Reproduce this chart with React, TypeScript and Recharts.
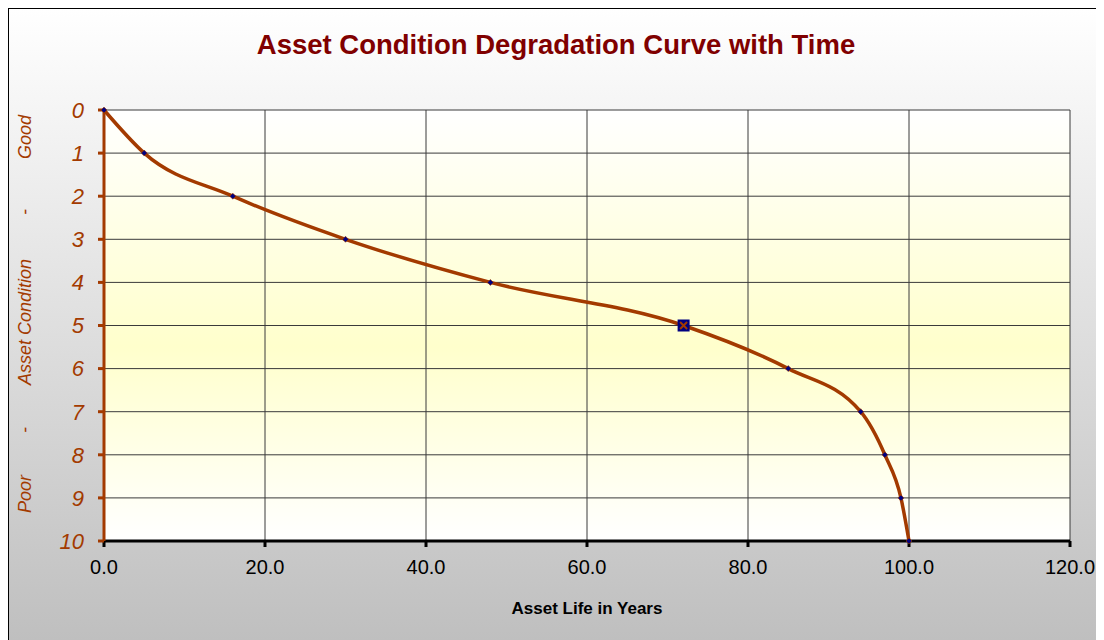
import { LineChart, Line, XAxis, YAxis, CartesianGrid, Label } from 'recharts';

const years = [0, 5, 16, 30, 48, 72, 85, 94, 97, 99, 100];
const condition = [0, 1, 2, 3, 4, 5, 6, 7, 8, 9, 10];
const highlightYear = 72;

const xTicks = [0, 20, 40, 60, 80, 100, 120];
const yTicks = [0, 1, 2, 3, 4, 5, 6, 7, 8, 9, 10];

// y-axis title pieces, top to bottom on screen
const yTitleParts = [
  { text: 'Good', y: 128 },
  { text: '-', y: 203 },
  { text: 'Asset Condition', y: 313 },
  { text: '-', y: 421 },
  { text: 'Poor', y: 485 },
];

const data = years.map((year, i) => ({ year, condition: condition[i] }));

const FONT = '"Liberation Sans", Arial, sans-serif';
const BROWN = '#a33a00';

function Marker(props: any) {
  const { cx, cy, payload } = props;
  if (cx == null || cy == null) return null;
  if (payload.year === highlightYear) {
    return (
      <g key={`m-${payload.year}`}>
        <rect x={cx - 6} y={cy - 6} width={12} height={12} fill="#000080" />
        <path d={`M${cx - 3.5},${cy - 3.5}L${cx + 3.5},${cy + 3.5}M${cx + 3.5},${cy - 3.5}L${cx - 3.5},${cy + 3.5}`} stroke={BROWN} strokeWidth={2} />
      </g>
    );
  }
  return (
    <path
      key={`m-${payload.year}`}
      d={`M${cx},${cy - 3}L${cx + 3},${cy}L${cx},${cy + 3}L${cx - 3},${cy}Z`}
      fill="#000080"
      stroke={BROWN}
      strokeWidth={0.6}
    />
  );
}

function YTitle() {
  return (
    <g>
      {yTitleParts.map((p, i) => (
        <text
          key={i}
          x={16}
          y={p.y}
          transform={`rotate(-90 16 ${p.y})`}
          textAnchor="middle"
          dominantBaseline="central"
          fill={BROWN}
          fontStyle="italic"
          fontSize={18}
          fontFamily={FONT}
        >
          {p.text}
        </text>
      ))}
    </g>
  );
}

export default function App() {
  return (
    <div
      style={{
        position: 'relative',
        width: 1094,
        height: 631,
        border: '1px solid #000',
        borderBottom: 'none',
        background: 'linear-gradient(to bottom, #ffffff 0%, #bfbfbf 100%)',
        fontFamily: FONT,
      }}
    >
      <svg width={0} height={0} style={{ position: 'absolute' }}>
        <defs>
          <linearGradient id="plotBg" x1="0" y1="0" x2="0" y2="1">
            <stop offset="0%" stopColor="#ffffff" />
            <stop offset="55%" stopColor="#ffffcc" />
            <stop offset="100%" stopColor="#ffffff" />
          </linearGradient>
        </defs>
      </svg>
      <div
        style={{
          position: 'absolute',
          top: 20,
          left: 0,
          width: '100%',
          textAlign: 'center',
          fontSize: 27.5,
          lineHeight: '32px',
          fontWeight: 'bold',
          color: '#800000',
        }}
      >
        Asset Condition Degradation Curve with Time
      </div>
      <LineChart
        width={1094}
        height={631}
        data={data}
        margin={{ top: 101, right: 33, left: 0, bottom: 19 }}
        style={{ position: 'absolute', top: 0, left: 0 }}
      >
        <CartesianGrid stroke="#3a3a3a" strokeWidth={1} fill="url(#plotBg)" fillOpacity={1} />
        <XAxis
          type="number"
          dataKey="year"
          domain={[0, 120]}
          ticks={xTicks}
          tickFormatter={(v: number) => v.toFixed(1)}
          height={80}
          axisLine={{ stroke: '#000', strokeWidth: 3 }}
          tickLine={{ stroke: '#000', strokeWidth: 3 }}
          tickSize={6}
          tickMargin={13}
          tick={{ fill: '#000', fontSize: 20, fontFamily: FONT }}
        >
          <Label
            value="Asset Life in Years"
            position="insideBottom"
            offset={7}
            style={{ fill: '#000', fontSize: 17, fontWeight: 'bold', fontFamily: FONT }}
          />
        </XAxis>
        <YAxis
          type="number"
          domain={[0, 10]}
          reversed
          ticks={yTicks}
          interval={0}
          width={95}
          axisLine={{ stroke: BROWN, strokeWidth: 3 }}
          tickLine={{ stroke: BROWN, strokeWidth: 3 }}
          tickSize={6}
          tickMargin={14}
          tick={{ fill: BROWN, fontSize: 22, fontStyle: 'italic', fontFamily: FONT }}
          label={<YTitle />}
        />
        <Line
          type="monotone"
          dataKey="condition"
          stroke={BROWN}
          strokeWidth={3.5}
          dot={<Marker />}
          activeDot={false}
          isAnimationActive={false}
        />
      </LineChart>
    </div>
  );
}
